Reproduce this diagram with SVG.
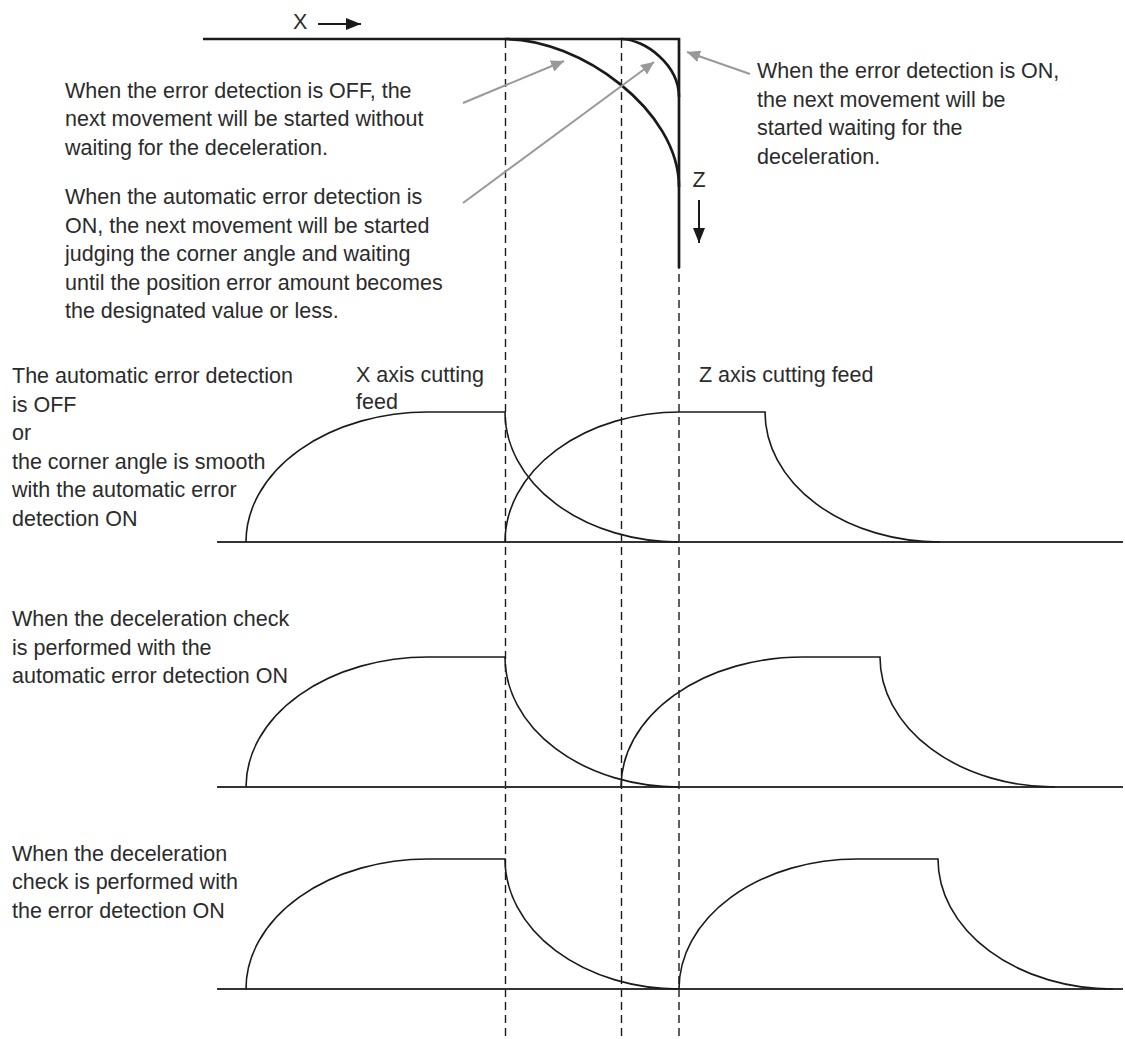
<svg xmlns="http://www.w3.org/2000/svg" width="1125" height="1039" viewBox="0 0 1125 1039">
<style>
text{font-family:"Liberation Sans",Arial,sans-serif;font-size:21.5px;fill:#2b2b2b}
.thick{fill:none;stroke:#1a1a1a;stroke-width:2.7}
.curve{fill:none;stroke:#1a1a1a;stroke-width:1.6}
.base{fill:none;stroke:#333;stroke-width:1.8}
.dash{fill:none;stroke:#1a1a1a;stroke-width:1.4;stroke-dasharray:8 5}
.gray{fill:none;stroke:#999;stroke-width:2}
</style>
<defs>
<marker id="ga" markerWidth="14" markerHeight="12" refX="13" refY="6" orient="auto" markerUnits="userSpaceOnUse"><path d="M0,0 L13,6 L0,12 Z" fill="#999"/></marker>
<marker id="ba" markerWidth="16" markerHeight="12" refX="15" refY="6" orient="auto" markerUnits="userSpaceOnUse"><path d="M0,0 L15,6 L0,12 Z" fill="#1a1a1a"/></marker>
</defs>
<g id="guides">
<line class="dash" x1="505.5" y1="40" x2="505.5" y2="1039"/>
<line class="dash" x1="621.5" y1="40" x2="621.5" y2="1039"/>
<line class="dash" x1="679" y1="40" x2="679" y2="1039"/>
</g>
<g id="path-diagram">
<path class="thick" d="M203,39 L679,39 L679,268"/>
<path class="thick" d="M505,39 C580,39 679,110 679,187"/>
<path class="thick" d="M621,39 C645,39 679,65 679,97"/>
<text x="293" y="29">X</text>
<line x1="318" y1="24" x2="361" y2="24" stroke="#1a1a1a" stroke-width="2" marker-end="url(#ba)"/>
<text x="692.5" y="187">Z</text>
<line x1="699" y1="200" x2="699" y2="243" stroke="#1a1a1a" stroke-width="2" marker-end="url(#ba)"/>
</g>
<g id="connectors">
<line class="gray" x1="463" y1="103" x2="564" y2="61" marker-end="url(#ga)"/>
<line class="gray" x1="463" y1="203" x2="654" y2="62" marker-end="url(#ga)"/>
<line class="gray" x1="750" y1="74" x2="687" y2="52" marker-end="url(#ga)"/>
</g>
<g id="note-off">
<text x="65" y="97.5">When the error detection is OFF, the</text>
<text x="65" y="126">next movement will be started without</text>
<text x="65" y="154.5">waiting for the deceleration.</text>
</g>
<g id="note-auto">
<text x="65" y="204">When the automatic error detection is</text>
<text x="65" y="232.5">ON, the next movement will be started</text>
<text x="65" y="261">judging the corner angle and waiting</text>
<text x="65" y="289.5">until the position error amount becomes</text>
<text x="65" y="318">the designated value or less.</text>
</g>
<g id="note-on">
<text x="757" y="78">When the error detection is ON,</text>
<text x="757" y="106.5">the next movement will be</text>
<text x="757" y="135">started waiting for the</text>
<text x="757" y="163.5">deceleration.</text>
</g>
<g id="graph1">
<text x="12" y="383">The automatic error detection</text>
<text x="12" y="411.5">is OFF</text>
<text x="12" y="440">or</text>
<text x="12" y="468.5">the corner angle is smooth</text>
<text x="12" y="497">with the automatic error</text>
<text x="12" y="525.5">detection ON</text>
<text x="356" y="382">X axis cutting</text>
<text x="356" y="409">feed</text>
<text x="699" y="382">Z axis cutting feed</text>
<line class="base" x1="217" y1="542" x2="1123" y2="542"/>
<path class="curve" d="M246,542 A182,130 0 0 1 428,412 L505,412 A174,130 0 0 0 679,542"/>
<path class="curve" d="M505,542 A175,130 0 0 1 680,412 L765,412 A175,130 0 0 0 940,542"/>
</g>
<g id="graph2">
<text x="12" y="626">When the deceleration check</text>
<text x="12" y="654.5">is performed with the</text>
<text x="12" y="683">automatic error detection ON</text>
<line class="base" x1="217" y1="787" x2="1123" y2="787"/>
<path class="curve" d="M246,787 A182,130 0 0 1 428,657 L505,657 A174,130 0 0 0 679,787"/>
<path class="curve" d="M621,787 A182,130 0 0 1 803,657 L880,657 A175,130 0 0 0 1055,787"/>
</g>
<g id="graph3">
<text x="12" y="860.5">When the deceleration</text>
<text x="12" y="889">check is performed with</text>
<text x="12" y="917.5">the error detection ON</text>
<line class="base" x1="217" y1="989" x2="1123" y2="989"/>
<path class="curve" d="M246,989 A182,130 0 0 1 428,859 L505,859 A174,130 0 0 0 679,989"/>
<path class="curve" d="M679,989 A178,130 0 0 1 857,859 L938,859 A175,130 0 0 0 1113,989"/>
</g>
</svg>
